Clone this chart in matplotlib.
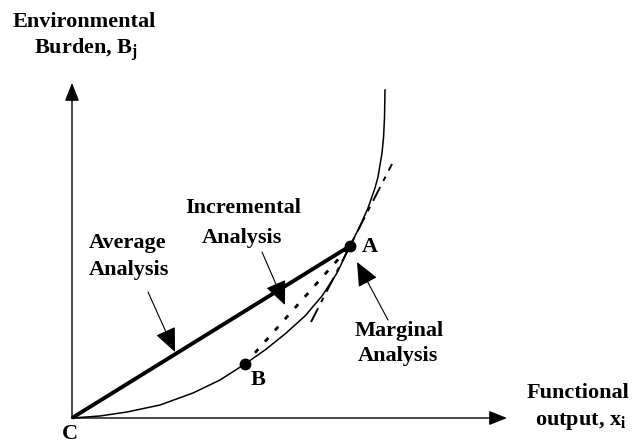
import matplotlib
matplotlib.use("Agg")
import matplotlib.pyplot as plt

# Diagram coordinates: origin at point C, x = functional output, y = burden
curve_x = [0, 28, 55, 88, 121, 148, 173, 193, 213, 233, 250, 265, 278, 288, 296, 303, 306, 308, 310, 311.5, 312.5, 313]
curve_y = [0, 2, 6, 13, 25, 38, 54, 68, 84, 102, 122, 145, 172, 192, 210, 230, 241, 253, 265, 280, 300, 328]

point_A = (278, 172)
point_B = (173, 54)
origin_C = (0, 0)

# tangent at A (marginal)
tangent_x = [239, 320]
tangent_y = [96, 254]

# axis ends
x_axis_end = 435
y_axis_end = 335

# annotation arrows: (text start, arrow tip)
avg_arrow = ((76, 126), (103, 66))
inc_arrow = ((190, 166), (213, 113))
mar_arrow = ((316, 98), (285, 156))

plt.rcParams['font.family'] = 'Liberation Serif'
plt.rcParams['font.weight'] = 'bold'
plt.rcParams['mathtext.fontset'] = 'custom'
plt.rcParams['mathtext.rm'] = 'Liberation Serif:bold'
plt.rcParams['mathtext.it'] = 'Liberation Serif:bold'

fig = plt.figure(figsize=(6.34, 4.45), dpi=100)
ax = fig.add_axes([0, 0, 1, 1])
ax.set_xlim(-72, 562)
ax.set_ylim(-27, 418)
ax.axis('off')

# 1. Axes with arrows
arrow_kw = dict(arrowstyle='-|>,head_length=0.55,head_width=0.22', lw=1.0,
                color='black', shrinkA=0, shrinkB=0, mutation_scale=20)
ax.annotate('', xy=(0, y_axis_end), xytext=origin_C, arrowprops=arrow_kw)
ax.annotate('', xy=(x_axis_end, 0), xytext=origin_C, arrowprops=arrow_kw)

# 2. Curve and lines
ax.plot(curve_x, curve_y, color='black', lw=1.1, solid_joinstyle='round')
ax.plot([origin_C[0], point_A[0]], [origin_C[1], point_A[1]], color='black', lw=2.8,
        solid_capstyle='butt')
ax.plot([point_B[0], point_A[0]], [point_B[1], point_A[1]], color='black', lw=2.0,
        dashes=(1.8, 3.6))
ax.plot(tangent_x, tangent_y, color='black', lw=1.4, dashes=(8, 3.5, 2.5, 3.5))

ax.plot(*point_A, 'o', color='black', markersize=7.5)
ax.plot(*point_B, 'o', color='black', markersize=7.5)

# 3. Labels
fs = 16
ax.text(12, 396, 'Environmental', fontsize=fs, ha='center', va='center')
ax.text(14, 368, 'Burden, B$_{\\rm j}$', fontsize=fs, ha='center', va='center')
ax.text(506, 25, 'Functional', fontsize=fs, ha='center', va='center')
ax.text(509, -4, 'output, x$_{\\rm i}$', fontsize=fs, ha='center', va='center')

ax.text(56, 175, 'Average', fontsize=fs, ha='center', va='center')
ax.text(57, 148, 'Analysis', fontsize=fs, ha='center', va='center')
ax.text(171, 210, 'Incremental', fontsize=fs, ha='center', va='center')
ax.text(170, 180, 'Analysis', fontsize=fs, ha='center', va='center')
ax.text(327, 87, 'Marginal', fontsize=fs, ha='center', va='center')
ax.text(326, 62, 'Analysis', fontsize=fs, ha='center', va='center')

ax.text(298, 171, 'A', fontsize=fs, ha='center', va='center')
ax.text(186, 38, 'B', fontsize=fs, ha='center', va='center')
ax.text(-2, -16, 'C', fontsize=fs, ha='center', va='center')

pointer_kw = dict(arrowstyle='-|>,head_length=0.75,head_width=0.33', lw=0.8,
                  color='black', shrinkA=0, shrinkB=0, mutation_scale=20)
for start, tip in [avg_arrow, inc_arrow, mar_arrow]:
    ax.annotate('', xy=tip, xytext=start, arrowprops=pointer_kw)

plt.savefig('out.png', dpi=100)
plt.close()
